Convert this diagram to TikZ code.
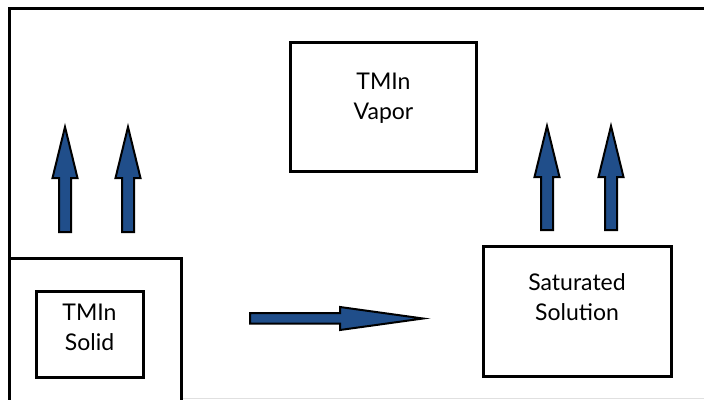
\documentclass[tikz,border=0pt]{standalone}
\usepackage{fontspec}
\setmainfont{Lato}
\definecolor{arrowblue}{RGB}{32,78,138}
\begin{document}
\begin{tikzpicture}[x=1pt,y=-1pt,
  box/.style={draw=black,line width=3pt,inner sep=0pt},
  lbl/.style={align=center,font=\fontsize{23}{30}\selectfont,inner sep=0pt},
  blockarrow/.style={draw=black,fill=arrowblue,line width=2pt,line join=miter}]
\useasboundingbox (0,0) rectangle (704,399);
% outer frame (runs off the right and bottom edges)
\draw[line width=3pt] (720,8.5) -- (9.5,8.5) -- (9.5,420);
\draw[black!12,line width=0.8pt] (181,398) -- (704,398);
% boxes
\node[box,minimum width=186pt,minimum height=129pt] (vapor) at (383.5,106.5) {};
\node[lbl] (vaportxt) at (383.5,98) {TMIn\\Vapor};
\node[box,minimum width=188pt,minimum height=130pt] (sat) at (577,311) {};
\node[lbl] (sattxt) at (577,297) {Saturated\\Solution};
\draw[line width=3pt] (9.5,258) -- (181,258) -- (181,420);
\node[box,minimum width=107pt,minimum height=86pt] (solid) at (89.5,334) {};
\node[lbl] (solidtxt) at (89.5,327) {TMIn\\Solid};
% vertical block arrows
\foreach \cx/\ty/\hy/\by in {65/127/178/232, 128/127/178/232, 547/126/177/230, 611/126/177/230}{
  \draw[blockarrow] (\cx-6,\by) -- (\cx-6,\hy) -- (\cx-12.5,\hy) -- (\cx,\ty) -- (\cx+12.5,\hy) -- (\cx+6,\hy) -- (\cx+6,\by) -- cycle;
}
% horizontal block arrow
\draw[blockarrow] (250,313) -- (340,313) -- (340,307) -- (423,318.5) -- (340,330) -- (340,323.5) -- (250,323.5) -- cycle;
\end{tikzpicture}
\end{document}
